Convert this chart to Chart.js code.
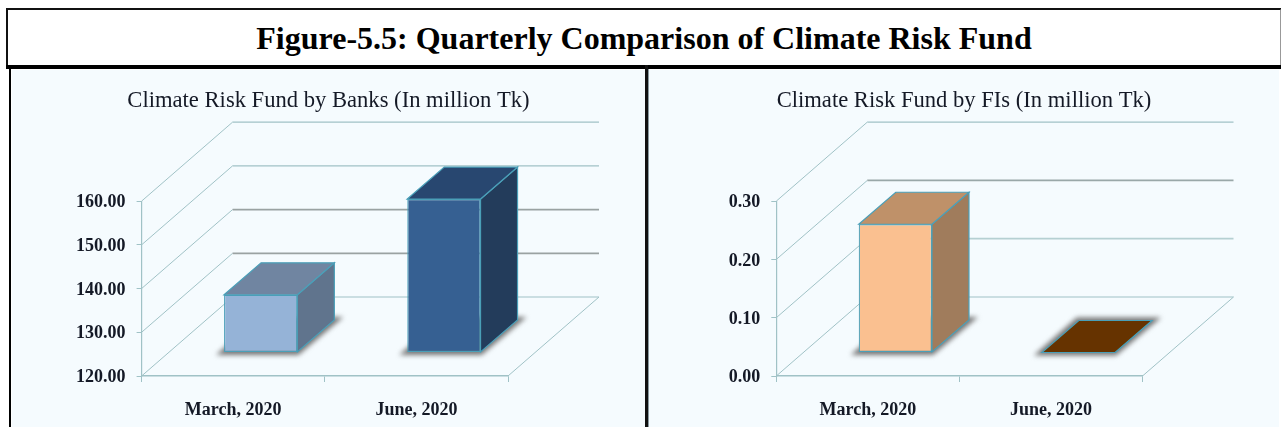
<!DOCTYPE html>
<html>
<head>
<meta charset="utf-8">
<title>Quarterly Comparison of Climate Risk Fund</title>
<script src="https://cdn.jsdelivr.net/npm/chart.js@4/dist/chart.umd.min.js"></script>
<style>
  html, body { margin: 0; padding: 0; background: #fff; }
  body { position: relative; width: 1281px; height: 427px; overflow: hidden; }
  #heading {
    position: absolute; left: 6px; top: 8px; width: 1272px; height: 56px;
    border: 2px solid #111; border-right-color: #999; border-bottom: 0;
    font: bold 32px/56px "Liberation Serif", serif; color: #000; text-align: center;
  }
  #rule { position: absolute; left: 6px; top: 65px; width: 1275px; height: 4px; background: #000; }
  #leftEdge { position: absolute; left: 9px; top: 65px; width: 2px; height: 362px; background: #000; }
  #divider { position: absolute; left: 645px; top: 65px; width: 3px; height: 362px; background: #111; }
  #dividerInner { position: absolute; left: 648px; top: 69px; width: 1px; height: 358px; background: #8a9aa0; }
  .panel { position: absolute; top: 70px; height: 357px; background: #f5fbfe; }
  #bankPanel { left: 12px; width: 633px; }
  #fiPanel { left: 649px; width: 630px; }
  .panel canvas { display: block; }
</style>
</head>
<body>
  <div id="heading">Figure-5.5: Quarterly Comparison of Climate Risk Fund</div>
  <div id="rule"></div>
  <div id="leftEdge"></div>
  <div id="divider"></div>
  <div id="dividerInner"></div>
  <div class="panel" id="bankPanel"><canvas id="bankChart" width="633" height="357"></canvas></div>
  <div class="panel" id="fiPanel"><canvas id="fiChart" width="630" height="357"></canvas></div>

<script>
const categories = ['March, 2020', 'June, 2020'];
const bankFund = [133.2, 155.1];
const fiFund = [0.22, 0];

const bankTitle = 'Climate Risk Fund by Banks (In million Tk)';
const fiTitle = 'Climate Risk Fund by FIs (In million Tk)';

const bankColors = ['#95b3d7', '#366092'];
const bankTops = ['#7085a1', '#284770'];
const bankSides = ['#60748d', '#233c5b'];
const bankWalls = ['#a0c2c6', '#9aa2a2', '#9aa2a2', '#a0c2c6', '#a0c2c6'];

const fiColors = ['#fac090', '#663300'];
const fiTops = ['#bf9169', '#663300'];
const fiSides = ['#a07c5c', '#4d2600'];
const fiWalls = ['#a0c2c6', '#b5d0d2', '#9aa8a8', '#a0c2c6'];

const EDGE = '#4a9fb8';
const AXIS = '#a0c2c6';
const TEXT = '#141926';

// floor depth of the 3D box, and where each bar stands on it
const WALL_DX = 91;
const WALL_DY = 79;
const BAR_SHIFT_X = 27.5;
const BAR_SHIFT_Y = 23.5;
const BAR_DX = 37;
const BAR_DY = 32;

function poly(ctx, pts, fill, stroke) {
  ctx.beginPath();
  pts.forEach((p, i) => (i ? ctx.lineTo(p[0], p[1]) : ctx.moveTo(p[0], p[1])));
  ctx.closePath();
  if (fill) {
    ctx.fillStyle = fill;
    ctx.fill();
  }
  if (stroke) {
    ctx.strokeStyle = stroke;
    ctx.lineWidth = 1.2;
    ctx.stroke();
  }
}

const box3d = {
  id: 'box3d',
  afterLayout(chart) {
    // keep the title centred on the whole canvas, not the padded part
    chart.titleBlock.left = 0;
    chart.titleBlock.right = chart.width;
  },
  beforeDatasetsDraw(chart, args, opts) {
    const { ctx, chartArea, scales } = chart;
    const { left, right, bottom } = chartArea;

    // back wall lines and the diagonals running back from the y axis
    ctx.save();
    scales.y.ticks.forEach((tick, i) => {
      const y = scales.y.getPixelForValue(tick.value);
      ctx.beginPath();
      ctx.moveTo(left, y);
      ctx.lineTo(left + WALL_DX, y - WALL_DY);
      ctx.strokeStyle = AXIS;
      ctx.lineWidth = 1;
      ctx.stroke();
      ctx.beginPath();
      ctx.moveTo(left + WALL_DX, y - WALL_DY);
      ctx.lineTo(right + WALL_DX, y - WALL_DY);
      ctx.strokeStyle = opts.walls[i];
      ctx.lineWidth = opts.walls[i] === AXIS ? 1.2 : 1.8;
      ctx.stroke();
    });
    ctx.beginPath();
    ctx.moveTo(right, bottom);
    ctx.lineTo(right + WALL_DX, bottom - WALL_DY);
    ctx.strokeStyle = AXIS;
    ctx.lineWidth = 1;
    ctx.stroke();

    // soft shadow under each bar, then its top and side faces
    const meta = chart.getDatasetMeta(0);
    meta.data.forEach((bar, i) => {
      const x0 = bar.x - bar.width / 2 + BAR_SHIFT_X;
      const x1 = bar.x + bar.width / 2 + BAR_SHIFT_X;
      const yTop = bar.y - BAR_SHIFT_Y;
      const yBase = bar.base - BAR_SHIFT_Y;

      ctx.save();
      ctx.filter = 'blur(2.5px)';
      poly(ctx, [
        [x0 - 8, yBase + 3],
        [x1 + 1, yBase + 3],
        [x1 + BAR_DX + 9, yBase - BAR_DY - 3],
        [x0 + BAR_DX - 2, yBase - BAR_DY - 3]
      ], '#757575');
      ctx.restore();

      poly(ctx, [
        [x1, yTop], [x1 + BAR_DX, yTop - BAR_DY],
        [x1 + BAR_DX, yBase - BAR_DY], [x1, yBase]
      ], opts.sides[i], EDGE);
      poly(ctx, [
        [x0, yTop], [x0 + BAR_DX, yTop - BAR_DY],
        [x1 + BAR_DX, yTop - BAR_DY], [x1, yTop]
      ], opts.tops[i], EDGE);
    });
    ctx.restore();
  },
  // the bars sit part way back on the floor, so shift the front faces too
  beforeDatasetDraw(chart) {
    chart.ctx.save();
    chart.ctx.translate(BAR_SHIFT_X, -BAR_SHIFT_Y);
  },
  afterDatasetDraw(chart) {
    chart.ctx.restore();
  }
};

function makeChart(canvasId, title, values, colors, tops, sides, walls, yMin, yMax, yStep, axisLeft, padRight) {
  return new Chart(document.getElementById(canvasId), {
    type: 'bar',
    data: {
      labels: categories,
      datasets: [{
        data: values,
        base: yMin,
        backgroundColor: colors,
        borderColor: EDGE,
        borderWidth: 1.2,
        borderSkipped: false,
        categoryPercentage: 0.4,
        barPercentage: 1,
        clip: false
      }]
    },
    plugins: [box3d],
    options: {
      responsive: false,
      animation: false,
      layout: { padding: { right: padRight } },
      plugins: {
        legend: { display: false },
        tooltip: { enabled: false },
        title: {
          display: true,
          text: title,
          color: TEXT,
          font: { family: '"Liberation Serif", serif', size: 22.6, weight: 'normal', lineHeight: 1.2 },
          padding: { top: 18, bottom: 86 }
        },
        box3d: { tops, sides, walls }
      },
      scales: {
        x: {
          border: { color: AXIS, width: 1.5 },
          grid: { drawOnChartArea: false, color: AXIS, tickLength: 6, offset: true },
          ticks: {
            color: TEXT,
            padding: 18,
            maxRotation: 0,
            font: { family: '"Liberation Serif", serif', size: 18, weight: 'bold' }
          },
          afterFit(scale) {
            scale.height = 51;
          }
        },
        y: {
          min: yMin,
          max: yMax,
          border: { color: AXIS, width: 1.2 },
          grid: { drawOnChartArea: false, color: AXIS, tickLength: 5 },
          ticks: {
            stepSize: yStep,
            color: TEXT,
            padding: 11,
            labelOffset: 1.5,
            font: { family: '"Liberation Serif", serif', size: 18, weight: 'bold' },
            callback: v => v.toFixed(2)
          },
          afterFit(scale) {
            scale.width = axisLeft;
          }
        }
      }
    }
  });
}

makeChart('bankChart', bankTitle, bankFund, bankColors, bankTops, bankSides, bankWalls, 120, 160, 10, 129.6, 137);
makeChart('fiChart', fiTitle, fiFund, fiColors, fiTops, fiSides, fiWalls, 0, 0.3, 0.1, 127.3, 136.5);
</script>
</body>
</html>
